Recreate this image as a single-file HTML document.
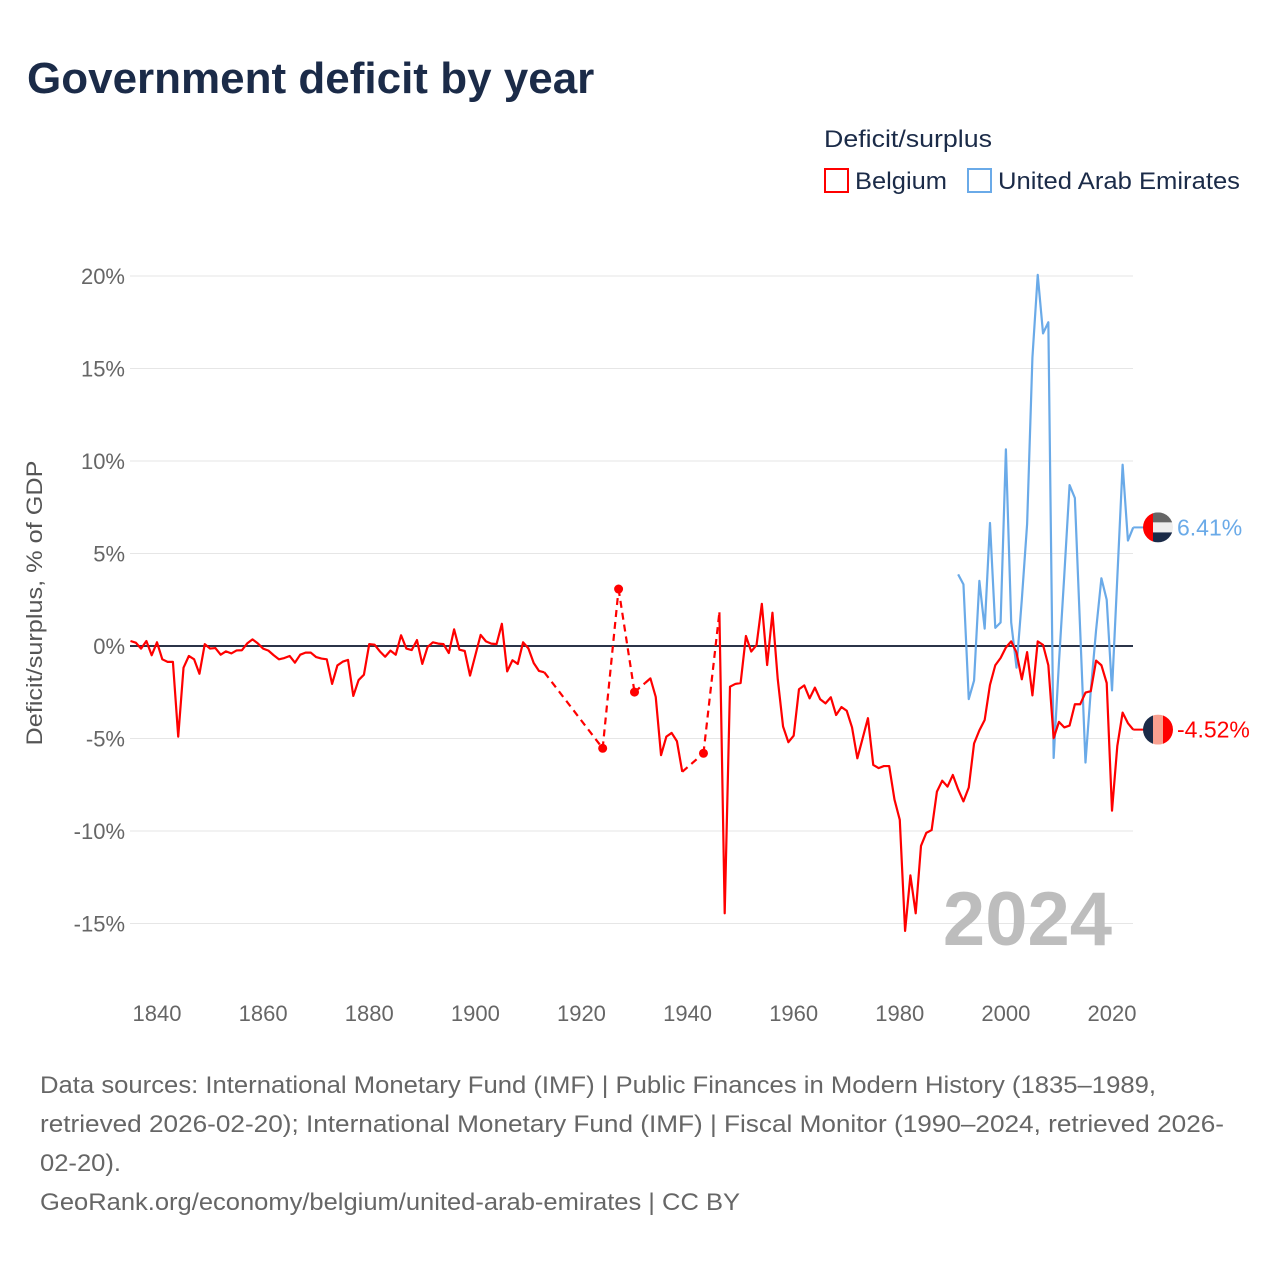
<!DOCTYPE html>
<html><head><meta charset="utf-8"><style>
body{margin:0;background:#fff;font-family:"Liberation Sans",sans-serif;}
svg text{font-family:"Liberation Sans",sans-serif;}
</style></head><body>
<svg id="chart" width="1280" height="1280" viewBox="0 0 1280 1280" xmlns="http://www.w3.org/2000/svg">
<rect width="1280" height="1280" fill="#fff"/>
<text x="27" y="93" font-size="44" font-weight="bold" fill="#1b2b48">Government deficit by year</text>
<text x="824" y="147" font-size="24" fill="#1b2b48" textLength="168" lengthAdjust="spacingAndGlyphs">Deficit/surplus</text>
<g>
<rect x="825" y="169" width="23" height="23" fill="none" stroke="#ff0000" stroke-width="2"/>
<text x="855" y="189" font-size="24" fill="#1b2b48" textLength="92" lengthAdjust="spacingAndGlyphs">Belgium</text></g>
<g>
<rect x="968" y="169" width="23" height="23" fill="none" stroke="#6aaae8" stroke-width="2"/>
<text x="998" y="189" font-size="24" fill="#1b2b48" textLength="242" lengthAdjust="spacingAndGlyphs">United Arab Emirates</text></g>
<g id="grid"></g>
<g id="series"></g>
<text x="42" y="603" font-size="22" fill="#555" text-anchor="middle" textLength="285" lengthAdjust="spacingAndGlyphs" transform="rotate(-90 42 603)">Deficit/surplus, % of GDP</text>
<text x="1112" y="945" font-size="76" font-weight="bold" fill="#bdbdbd" text-anchor="end">2024</text>
<g font-size="24" fill="#666">
<text x="40" y="1093" textLength="1116" lengthAdjust="spacingAndGlyphs">Data sources: International Monetary Fund (IMF) | Public Finances in Modern History (1835–1989,</text>
<text x="40" y="1132" textLength="1184" lengthAdjust="spacingAndGlyphs">retrieved 2026-02-20); International Monetary Fund (IMF) | Fiscal Monitor (1990–2024, retrieved 2026-</text>
<text x="40" y="1171" textLength="81" lengthAdjust="spacingAndGlyphs">02-20).</text>
<text x="40" y="1210" textLength="700" lengthAdjust="spacingAndGlyphs">GeoRank.org/economy/belgium/united-arab-emirates | CC BY</text>
</g>
</svg>
<script>
const yTicks=[20,15,10,5,0,-5,-10,-15];
const yTickLabels=["20%","15%","10%","5%","0%","-5%","-10%","-15%"];
const xTicks=[1840,1860,1880,1900,1920,1940,1960,1980,2000,2020];
const belgiumYears=[];
for(let y=1835;y<=1913;y++)belgiumYears.push(y);
belgiumYears.push(1924,1927,1930,1932,1933,1934,1935,1936,1937,1938,1939,1943);
for(let y=1946;y<=2024;y++)belgiumYears.push(y);
const belgiumValues=[0.27,0.18,-0.14,0.27,-0.5,0.2,-0.72,-0.86,-0.86,-4.9,-1.17,-0.54,-0.72,-1.5,0.1,-0.14,-0.11,-0.47,-0.29,-0.4,-0.24,-0.23,0.14,0.36,0.14,-0.14,-0.25,-0.5,-0.72,-0.65,-0.54,-0.9,-0.47,-0.36,-0.36,-0.6,-0.68,-0.72,-2.05,-1.05,-0.85,-0.75,-2.7,-1.84,-1.55,0.1,0.07,-0.29,-0.58,-0.25,-0.47,0.58,-0.14,-0.22,0.32,-0.97,-0.05,0.2,0.13,0.1,-0.38,0.9,-0.2,-0.27,-1.6,-0.5,0.6,0.25,0.13,0.1,1.2,-1.37,-0.77,-0.97,0.2,-0.13,-0.92,-1.35,-1.42,
-5.53,3.08,-2.49,-2.0,-1.75,-2.75,-5.9,-4.9,-4.7,-5.15,-6.8,-5.8,
1.82,-14.45,-2.2,-2.05,-2.0,0.54,-0.3,0.05,2.28,-1.03,1.8,-1.8,-4.35,-5.2,-4.85,-2.34,-2.13,-2.83,-2.25,-2.88,-3.1,-2.77,-3.73,-3.3,-3.5,-4.4,-6.07,-4.99,-3.9,-6.43,-6.6,-6.49,-6.49,-8.3,-9.4,-15.4,-12.4,-14.45,-10.8,-10.1,-9.95,-7.87,-7.28,-7.6,-6.97,-7.75,-8.4,-7.65,-5.27,-4.56,-4.0,-2.1,-1.04,-0.65,-0.08,0.25,-0.35,-1.8,-0.33,-2.67,0.25,0.06,-1.04,-4.98,-4.1,-4.4,-4.3,-3.15,-3.15,-2.52,-2.44,-0.79,-1.04,-2.0,-8.9,-5.4,-3.6,-4.17,-4.52];
const uaeYears=[];
for(let y=1991;y<=2024;y++)uaeYears.push(y);
const uaeValues=[3.87,3.33,-2.87,-1.87,3.52,0.94,6.65,0.98,1.27,10.63,1.27,-1.17,2.5,6.6,15.6,20.06,16.9,17.5,-6.05,-0.9,3.8,8.7,8.0,0.86,-6.3,-2.4,0.86,3.66,2.5,-2.4,3.7,9.8,5.7,6.41];

const NS="http://www.w3.org/2000/svg";
const xs=yr=>157+(yr-1840)*5.3056;
const ys=v=>646-v*18.5;
function mk(tag,attrs,parent){const e=document.createElementNS(NS,tag);for(const k in attrs)e.setAttribute(k,attrs[k]);parent.appendChild(e);return e;}
const grid=document.getElementById('grid');
yTicks.forEach((t,i)=>{
  if(t!==0){const l=mk('line',{x1:130,x2:1133,y1:ys(t),y2:ys(t),stroke:'#e6e6e6','stroke-width':1},grid);
  
  }
  const tx=mk('text',{x:125,y:ys(t)+8,'font-size':22,fill:'#666','text-anchor':'end'},grid);
  tx.textContent=yTickLabels[i];
  
  
});
xTicks.forEach(t=>{
  const tx=mk('text',{x:xs(t),y:1021,'font-size':22,fill:'#666','text-anchor':'middle'},grid);
  tx.textContent=t;
  
  
});
const zl=mk('line',{x1:130,x2:1133,y1:ys(0),y2:ys(0),stroke:'#2b3448','stroke-width':2},grid);



const series=document.getElementById('series');
function drawSeries(years,vals,color,name){
  const g=mk('g',{},series);
  
  
  let run=[[xs(years[0]),ys(vals[0])]];
  const flush=()=>{if(run.length>1){mk('polyline',{points:run.map(p=>p.join(',')).join(' '),fill:'none',stroke:color,'stroke-width':2.2,'stroke-linejoin':'round'},g);}};
  for(let i=1;i<years.length;i++){
    const p=[xs(years[i]),ys(vals[i])];
    if(years[i]-years[i-1]===1){run.push(p);}
    else{flush();
      mk('line',{x1:xs(years[i-1]),y1:ys(vals[i-1]),x2:p[0],y2:p[1],stroke:color,'stroke-width':2.2,'stroke-dasharray':'7,5'},g);
      run=[p];}
  }
  flush();
  for(let i=0;i<years.length;i++){
    const prevGap=i===0||years[i]-years[i-1]>1;
    const nextGap=i===years.length-1||years[i+1]-years[i]>1;
    if(prevGap&&nextGap&&i>0&&i<years.length-1){
      const c=mk('circle',{cx:xs(years[i]),cy:ys(vals[i]),r:4.5,fill:color},g);
      
      
    }
  }
  const last=vals.length-1;
  mk('line',{x1:xs(years[last]),y1:ys(vals[last]),x2:1145,y2:ys(vals[last]),stroke:color,'stroke-width':2},g);
}
drawSeries(uaeYears,uaeValues,'#6aaae8','uae');
drawSeries(belgiumYears,belgiumValues,'#ff0000','belgium');

function flag(cy,kind,label,color){
  const g=mk('g',{},series);
  
  
  const id='clip'+kind;
  const cp=mk('clipPath',{id:id},g);mk('circle',{cx:1158,cy:cy,r:15},cp);
  const f=mk('g',{'clip-path':'url(#'+id+')'},g);
  if(kind==='uae'){
    mk('rect',{x:1143,y:cy-15,width:10,height:30,fill:'#ff0000'},f);
    mk('rect',{x:1153,y:cy-15,width:20,height:10,fill:'#666'},f);
    mk('rect',{x:1153,y:cy-5,width:20,height:10,fill:'#eee'},f);
    mk('rect',{x:1153,y:cy+5,width:20,height:10,fill:'#1b2b48'},f);
  }else{
    mk('rect',{x:1143,y:cy-15,width:10,height:30,fill:'#1b2b48'},f);
    mk('rect',{x:1153,y:cy-15,width:10,height:30,fill:'#f8a090'},f);
    mk('rect',{x:1163,y:cy-15,width:10,height:30,fill:'#ff0000'},f);
  }
  const t=mk('text',{x:1177,y:cy+8,'font-size':23,fill:color},g);
  t.textContent=label;
}
flag(ys(uaeValues[uaeValues.length-1]),'uae',uaeValues[uaeValues.length-1].toFixed(2)+'%','#6aaae8');
flag(ys(belgiumValues[belgiumValues.length-1]),'belgium',belgiumValues[belgiumValues.length-1].toFixed(2)+'%','#ff0000');
</script>
</body></html>
